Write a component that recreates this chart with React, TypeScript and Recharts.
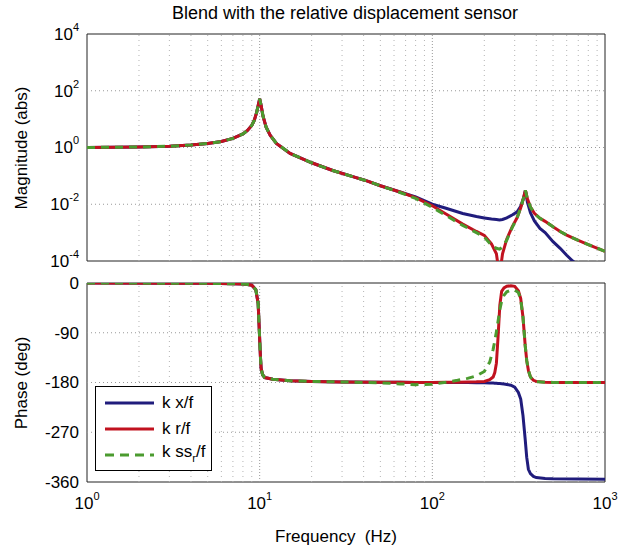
import React from 'react';
import {
  LineChart, Line, XAxis, YAxis, ReferenceLine, ReferenceArea, Legend
} from 'recharts';

const FONT = '"Liberation Sans", Arial, Helvetica, sans-serif';
const BLUE = '#201c7c';
const RED = '#c1121f';
const GREEN = '#4b9b2f';

// frequency axis
const DECADES = [1, 10, 100, 1000];
const MINOR_FREQ = [
  2, 3, 4, 5, 6, 7, 8, 9,
  20, 30, 40, 50, 60, 70, 80, 90,
  200, 300, 400, 500, 600, 700, 800, 900,
];
const MAG_TICKS = [1e-4, 1e-2, 1, 1e2, 1e4];
const PHASE_TICKS = [-360, -270, -180, -90, 0];

// magnitude (abs)
const MAG_FREQ = [
  1, 2, 3, 4, 5, 6, 7, 8, 8.5, 9, 9.3, 9.6, 9.8, 10, 10.2, 10.45, 10.9, 11.5, 12.5, 15,
  20, 26.5, 35, 41, 50, 65, 80, 100, 120, 150, 180, 200, 220, 235, 245, 255, 270, 290,
  310, 325, 338, 346, 355, 370, 390, 420, 450, 500, 550, 600, 650, 700, 800, 1000,
];
const MAG_KXF = [
  1.0, 1.04, 1.11, 1.22, 1.38, 1.62, 2.1, 3.0, 4.0, 6.0, 9.0, 17, 30, 52, 30, 13, 5.2, 2.7, 1.4, 0.62,
  0.29, 0.155, 0.092, 0.069, 0.045, 0.027, 0.018, 0.01, 0.0072, 0.0047, 0.0037, 0.0033, 0.003, 0.0029, 0.0028, 0.0029, 0.0033, 0.0042,
  0.0054, 0.0085, 0.017, 0.031, 0.012, 0.005, 0.0026, 0.0014, 0.001, 0.00048, 0.00028, 0.00016, 0.0001, 0.00007, 0.000035, 0.000012,
];
const MAG_KRF = [
  1.0, 1.04, 1.11, 1.22, 1.38, 1.62, 2.1, 3.0, 4.0, 6.0, 9.0, 17, 30, 52, 30, 13, 5.2, 2.7, 1.4, 0.62,
  0.29, 0.155, 0.092, 0.069, 0.045, 0.027, 0.017, 0.0088, 0.0045, 0.002, 0.0011, 0.0008, 0.0004, 0.00018, 0.00003, 0.00018, 0.0006, 0.0016,
  0.0034, 0.0075, 0.017, 0.031, 0.016, 0.008, 0.0048, 0.0032, 0.0025, 0.0016, 0.0011, 0.00082, 0.00065, 0.00053, 0.00038, 0.00022,
];
const MAG_KSSRF = [
  1.0, 1.04, 1.11, 1.22, 1.38, 1.62, 2.1, 3.0, 4.0, 6.0, 9.0, 17, 30, 52, 30, 13, 5.2, 2.7, 1.4, 0.62,
  0.29, 0.155, 0.092, 0.069, 0.045, 0.026, 0.016, 0.0078, 0.004, 0.0018, 0.001, 0.0007, 0.00036, 0.00028, 0.00026, 0.00031, 0.00055, 0.0015,
  0.0034, 0.0075, 0.017, 0.031, 0.016, 0.008, 0.0048, 0.0032, 0.0025, 0.0016, 0.0011, 0.00082, 0.00065, 0.00053, 0.00038, 0.00022,
];

// phase (deg)
const PH_FREQ = [
  1, 3, 5, 7, 8, 8.5, 9, 9.5, 9.8, 9.95, 10.1, 10.2, 10.4, 10.7, 11.9, 15, 20, 30, 50, 65, 80,
  100, 120, 140, 160, 180, 200, 215, 225, 230, 235, 240, 246, 252, 260, 270, 285, 300, 315,
  325, 335, 345, 352, 360, 370, 385, 400, 450, 500, 700, 1000,
];
const PH_KXF = [
  0, -0.3, -0.6, -1.3, -2, -2.8, -4, -12, -37, -85, -133, -155, -166, -171, -174, -177, -178, -179, -179.5, -179.7, -179.8,
  -179.9, -180, -180, -180.2, -180.4, -180.6, -180.9, -181.1, -181.3, -181.5, -181.7, -182, -182.3, -182.8, -183.5, -185, -188.5, -198,
  -210, -240, -283, -315, -337, -345, -350, -352, -353.5, -354, -354.5, -355,
];
const PH_KRF = [
  0, -0.3, -0.6, -1.3, -2, -2.8, -4, -12, -37, -85, -133, -155, -166, -171, -174, -177, -178, -179, -179.5, -179.7, -179.8,
  -179.8, -179.7, -179.5, -179.2, -178.8, -178, -175, -170, -162, -145, -100, -40, -15, -9, -6, -5, -6, -14,
  -28, -62, -113, -140, -158, -170, -176, -178, -179.5, -179.8, -180, -180,
];
const PH_KSSRF = [
  0, -0.3, -0.6, -1.3, -2, -2.8, -4, -12, -37, -85, -133, -155, -166, -171, -174, -177, -178, -179, -180.5, -182.5, -184,
  -183, -179.5, -176, -172.5, -168, -160, -143, -120, -105, -88, -70, -48, -33, -22, -16, -13, -13, -17,
  -30, -62, -113, -140, -158, -170, -176, -178.5, -179.5, -179.8, -180, -180,
];

const magData = MAG_FREQ.map((f, i) => ({ f, kx: MAG_KXF[i], kr: MAG_KRF[i], kss: MAG_KSSRF[i] }));
const phaseData = PH_FREQ.map((f, i) => ({ f, kx: PH_KXF[i], kr: PH_KRF[i], kss: PH_KSSRF[i] }));

const PowTick = (props: any) => {
  const { x, y, payload } = props;
  const exp = Math.round(Math.log10(payload.value));
  return (
    <text x={x} y={y} dy="0.35em" textAnchor="end" fontSize={17} fill="#000" fontFamily={FONT}>
      10<tspan dy={-9} fontSize={11}>{exp}</tspan>
    </text>
  );
};

const PhaseTick = (props: any) => {
  const { x, y, payload } = props;
  return (
    <text x={x} y={y} dy="0.35em" textAnchor="end" fontSize={17} fill="#000" fontFamily={FONT}>
      {payload.value}
    </text>
  );
};

const FreqTick = (props: any) => {
  const { x, y, payload } = props;
  const exp = Math.log10(payload.value);
  if (Math.abs(exp - Math.round(exp)) > 1e-6) return null;
  return (
    <text x={x} y={y + 19} textAnchor="middle" fontSize={17} fill="#000" fontFamily={FONT}>
      10<tspan dy={-9} fontSize={11}>{Math.round(exp)}</tspan>
    </text>
  );
};

const LegendBox = () => {
  const rows = [
    { label: <>k x/f</>, color: BLUE, dash: undefined },
    { label: <>k r/f</>, color: RED, dash: undefined },
    { label: <>k ss<sub style={{ fontSize: 11, verticalAlign: -5 }}>r</sub>/f</>, color: GREEN, dash: '9 6' },
  ];
  return (
    <div style={{
      border: '1px solid #000', background: '#fff', width: 117, height: 85,
      boxSizing: 'border-box', paddingTop: 3, fontFamily: FONT, fontSize: 17,
    }}>
      {rows.map((r, i) => (
        <div key={i} style={{ display: 'flex', alignItems: 'center', height: 26, lineHeight: '26px' }}>
          <svg width={66} height={10} style={{ flex: 'none' }}>
            <line x1={9} y1={5} x2={58} y2={5} stroke={r.color} strokeWidth={3} strokeDasharray={r.dash} />
          </svg>
          <span style={{ whiteSpace: 'nowrap' }}>{r.label}</span>
        </div>
      ))}
    </div>
  );
};

const gridLines = (yTicks: number[], yMin: number, yMax: number) => [
  ...MINOR_FREQ.map((f) => (
    <ReferenceLine key={`vx${f}`} x={f} stroke="#b4b4b4" strokeDasharray="1 4" />
  )),
  ...DECADES.slice(1, 3).map((f) => (
    <ReferenceLine key={`vX${f}`} x={f} stroke="#999" strokeDasharray="1 2" />
  )),
  ...yTicks.filter((v) => v !== yMin && v !== yMax).map((v) => (
    <ReferenceLine key={`h${v}`} y={v} stroke="#999" strokeDasharray="1 3" />
  )),
];

const App: React.FC = () => {
  return (
    <div style={{ position: 'absolute', left: 0, top: 0, width: 618, height: 551, background: '#fff', fontFamily: FONT }}>
      <div style={{ position: 'absolute', top: 3, left: 0, width: 690, textAlign: 'center', fontSize: 18 }}>
        Blend with the relative displacement sensor
      </div>
      <div style={{
        position: 'absolute', left: 22, top: 148, transform: 'translate(-50%, -50%) rotate(-90deg)',
        fontSize: 17, whiteSpace: 'nowrap',
      }}>
        Magnitude (abs)
      </div>
      <div style={{
        position: 'absolute', left: 22, top: 383, transform: 'translate(-50%, -50%) rotate(-90deg)',
        fontSize: 17, whiteSpace: 'nowrap',
      }}>
        Phase (deg)
      </div>
      <div style={{ position: 'absolute', top: 527, left: 0, width: 672, textAlign: 'center', fontSize: 17, whiteSpace: 'pre' }}>
        Frequency  (Hz)
      </div>

      <div style={{ position: 'absolute', left: 0, top: 0 }}>
        <LineChart width={618} height={270} data={magData} margin={{ top: 34, right: 13, bottom: 9, left: 0 }}>
          <XAxis dataKey="f" type="number" scale="log" domain={[1, 1000]} allowDataOverflow hide />
          <YAxis
            type="number" scale="log" domain={[1e-4, 1e4]} ticks={MAG_TICKS} allowDataOverflow
            width={87} axisLine={false} tickLine={false} tick={<PowTick />} interval={0}
          />
          {gridLines(MAG_TICKS, 1e-4, 1e4)}
          <ReferenceArea x1={1} x2={1000} y1={1e-4} y2={1e4} fill="none" stroke="#222" strokeWidth={1} />
          <Line dataKey="kx" stroke={BLUE} strokeWidth={3} dot={false} type="linear" isAnimationActive={false} />
          <Line dataKey="kr" stroke={RED} strokeWidth={3} dot={false} type="linear" isAnimationActive={false} />
          <Line dataKey="kss" stroke={GREEN} strokeWidth={3} strokeDasharray="8 6" dot={false} type="linear" isAnimationActive={false} />
        </LineChart>
      </div>

      <div style={{ position: 'absolute', left: 0, top: 270 }}>
        <LineChart width={618} height={281} data={phaseData} margin={{ top: 13, right: 13, bottom: 29, left: 0 }}>
          <XAxis
            dataKey="f" type="number" scale="log" domain={[1, 1000]} allowDataOverflow
            ticks={[...DECADES, ...MINOR_FREQ].sort((a, b) => a - b)} interval={0}
            height={40} axisLine={false} tickLine={false} tick={<FreqTick />}
          />
          <YAxis
            type="number" domain={[-360, 0]} ticks={PHASE_TICKS} allowDataOverflow
            width={87} axisLine={false} tickLine={false} tick={<PhaseTick />} interval={0}
          />
          {gridLines(PHASE_TICKS, -360, 0)}
          <ReferenceArea x1={1} x2={1000} y1={-360} y2={0} fill="none" stroke="#222" strokeWidth={1} />
          <Line dataKey="kx" name="k x/f" stroke={BLUE} strokeWidth={3} dot={false} type="linear" isAnimationActive={false} />
          <Line dataKey="kr" name="k r/f" stroke={RED} strokeWidth={3} dot={false} type="linear" isAnimationActive={false} />
          <Line dataKey="kss" name="k ss_r/f" stroke={GREEN} strokeWidth={3} strokeDasharray="8 6" dot={false} type="linear" isAnimationActive={false} />
          <Legend
            layout="vertical" align="center" verticalAlign="middle"
            content={<LegendBox />}
            wrapperStyle={{ position: 'absolute', left: 95, top: 116, width: 117, height: 85 }}
          />
        </LineChart>
      </div>
    </div>
  );
};

export default App;
